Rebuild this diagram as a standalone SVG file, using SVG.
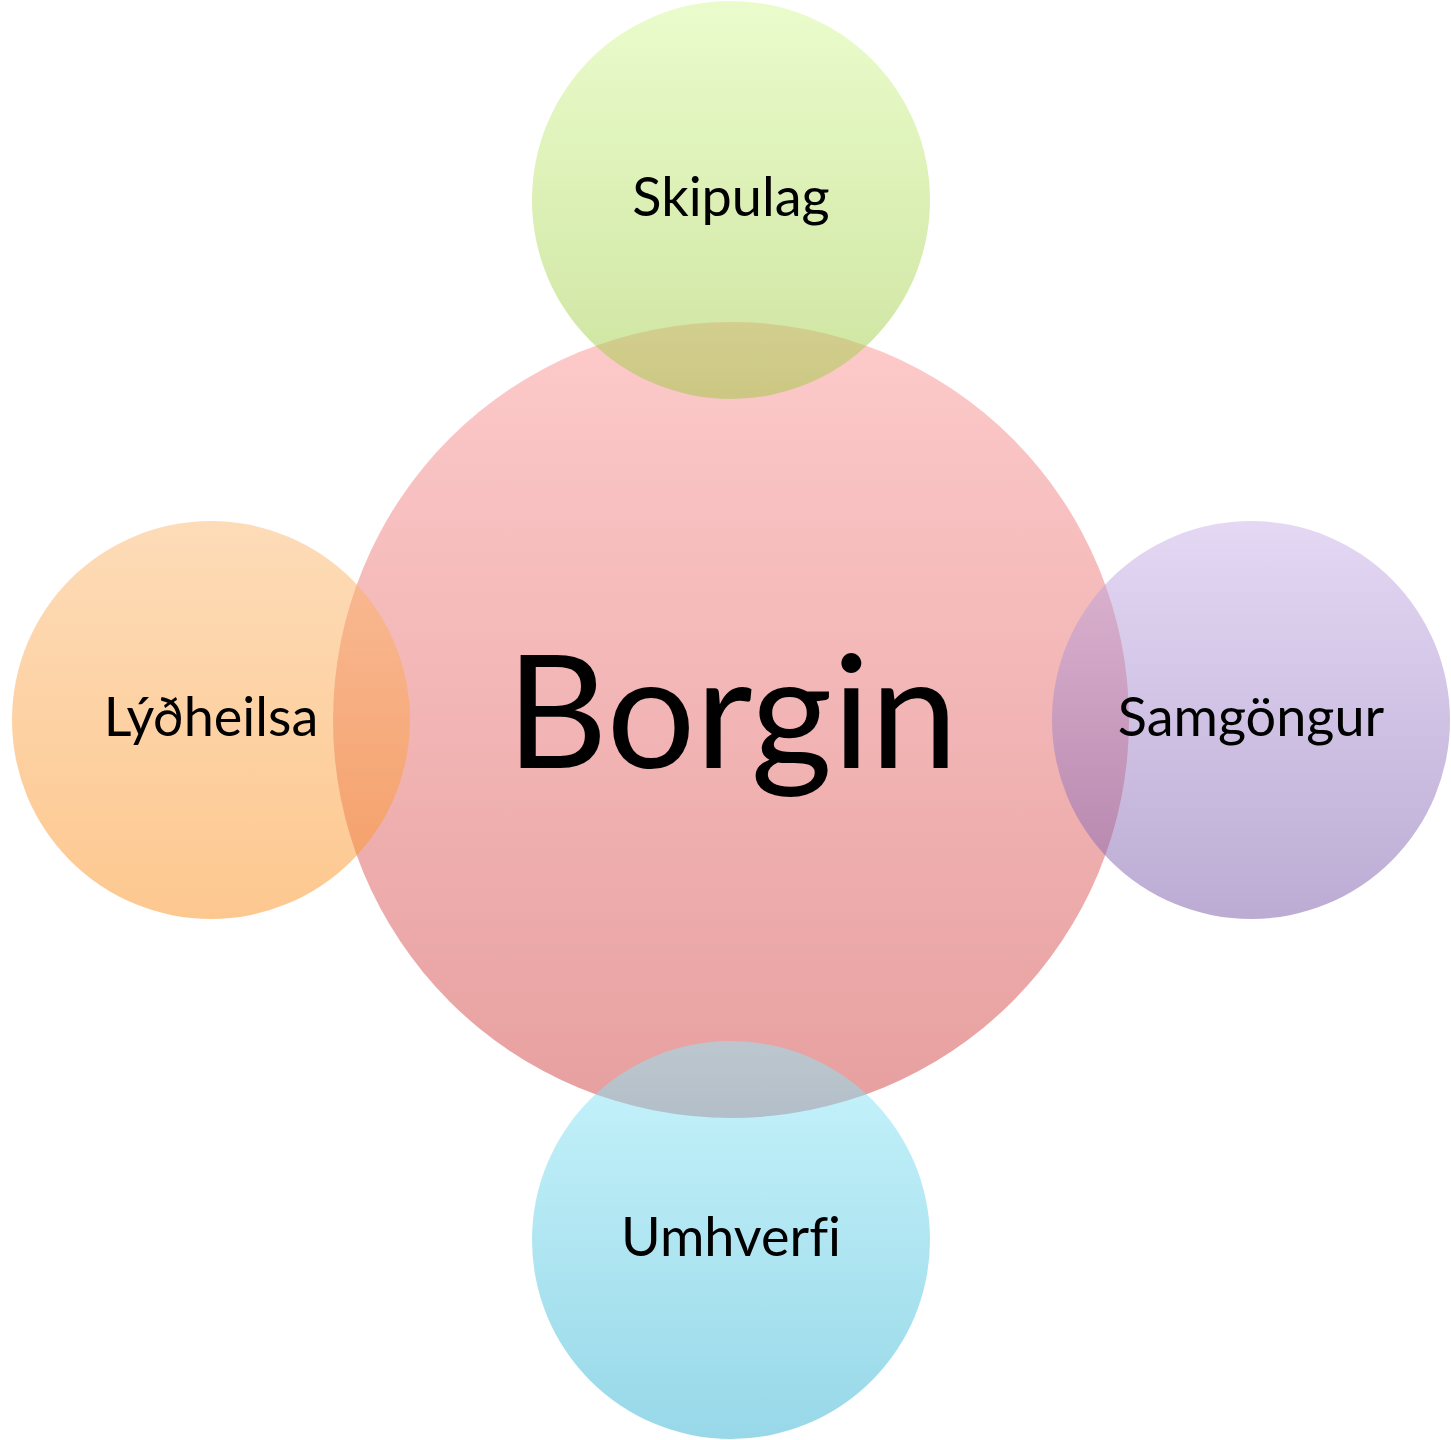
<svg xmlns="http://www.w3.org/2000/svg" width="1451" height="1440" viewBox="0 0 1451 1440">
<defs>
<linearGradient id="gPink" x1="0" y1="0" x2="0" y2="1"><stop offset="0" stop-color="#fdcaca"/><stop offset="1" stop-color="#e79f9f"/></linearGradient>
<linearGradient id="gGreen" x1="0" y1="0" x2="0" y2="1"><stop offset="0" stop-color="#d5f999"/><stop offset="1" stop-color="#9dc941"/></linearGradient>
<linearGradient id="gOrange" x1="0" y1="0" x2="0" y2="1"><stop offset="0" stop-color="#fbb971"/><stop offset="1" stop-color="#fb9121"/></linearGradient>
<linearGradient id="gPurple" x1="0" y1="0" x2="0" y2="1"><stop offset="0" stop-color="#c9b1e9"/><stop offset="1" stop-color="#7959a9"/></linearGradient>
<linearGradient id="gCyan" x1="0" y1="0" x2="0" y2="1"><stop offset="0" stop-color="#91e9f9"/><stop offset="1" stop-color="#31b1d1"/></linearGradient>
</defs>
<style>
.sat{fill-opacity:0.5}
text{font-family:Lato,"Liberation Sans",sans-serif;fill:#000;text-anchor:middle;font-variant-ligatures:none;font-feature-settings:"liga" 0}
.lbl{font-size:54px}
.big{font-size:157px}
</style>
<g id="connectors"></g>
<g id="node-borgin"><circle cx="731" cy="720" r="398" fill="url(#gPink)"/><text class="big" x="732" y="768">Borgin</text></g>
<g id="node-skipulag"><circle class="sat" cx="731" cy="200" r="199" fill="url(#gGreen)"/><text class="lbl" x="731" y="216">Skipulag</text></g>
<g id="node-lydheilsa"><circle class="sat" cx="211" cy="720" r="199" fill="url(#gOrange)"/><text class="lbl" x="211" y="736">Lýðheilsa</text></g>
<g id="node-samgongur"><circle class="sat" cx="1251" cy="720" r="199" fill="url(#gPurple)"/><text class="lbl" x="1251" y="736">Samgöngur</text></g>
<g id="node-umhverfi"><circle class="sat" cx="731" cy="1240" r="199" fill="url(#gCyan)"/><text class="lbl" x="731" y="1256">Umhverfi</text></g>
</svg>
